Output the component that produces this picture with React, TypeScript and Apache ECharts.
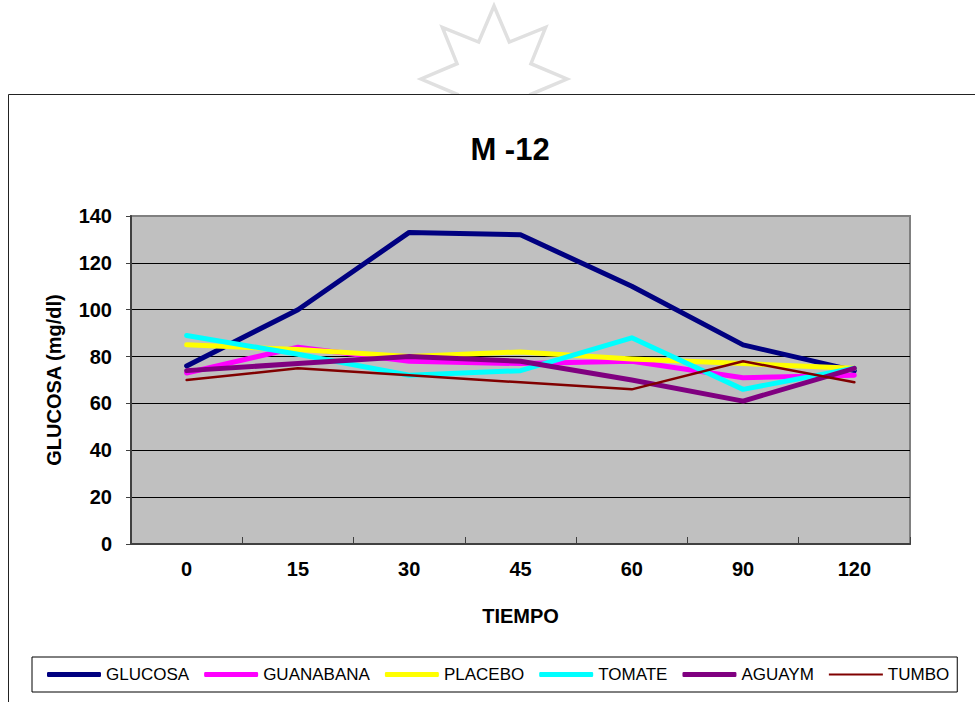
import React, { useEffect, useRef } from "react";
import * as echarts from "echarts";

const categories = ["0", "15", "30", "45", "60", "90", "120"];
const glucosa = [76, 100, 133, 132, 110, 85, 74];
const guanabana = [73, 84, 78, 77, 78, 71, 72];
const placebo = [85, 83, 80, 82, 79, 77, 75];
const tomate = [89, 81, 72, 74, 88, 66, 75];
const aguaym = [74, 77, 80, 78, 70, 61, 75];
const tumbo = [70, 75, 72, 69, 66, 78, 69];

const FONT = 'Arial, "Liberation Sans", sans-serif';

function starPoints(cx: number, cy: number, ro: number, ri: number, n: number) {
  const pts: number[][] = [];
  for (let i = 0; i < n * 2; i++) {
    const r = i % 2 === 0 ? ro : ri;
    const a = (Math.PI * i) / n;
    pts.push([cx + r * Math.sin(a), cy - r * Math.cos(a)]);
  }
  return pts;
}

const THICK = "roundRect";
const THIN = "path://M0,0M54,5M0,1.5L54,1.5L54,3.5L0,3.5Z";

export default function App() {
  const ref = useRef<HTMLDivElement>(null);
  useEffect(() => {
    if (!ref.current) return;
    const chart = echarts.init(ref.current, undefined, { renderer: "svg" });
    const mk = (name: string, data: number[], color: string, width: number) => ({
      name,
      type: "line",
      data,
      symbol: "none",
      lineStyle: { color, width, cap: "round", join: "round" },
      itemStyle: { color },
    });
    chart.setOption({
      animation: false,
      backgroundColor: "#fff",
      graphic: [
        {
          type: "polygon",
          z: -20,
          shape: { points: starPoints(494, 79, 73, 40, 8) },
          style: { fill: "none", stroke: "#e0e0e0", lineWidth: 3.5 },
        },
        {
          type: "rect",
          z: -10,
          shape: { x: 8.5, y: 94.5, width: 1000, height: 700 },
          style: { fill: "#fff", stroke: "#222", lineWidth: 1 },
        },
      ],
      title: {
        text: "M -12",
        left: 505,
        top: 129,
        textAlign: "center",
        textStyle: { fontFamily: FONT, fontSize: 31, fontWeight: "bold", color: "#000" },
      },
      grid: {
        left: 131,
        right: 65,
        top: 216,
        bottom: 158,
        show: true,
        backgroundColor: "#C0C0C0",
        borderColor: "#808080",
        borderWidth: 2,
      },
      legend: {
        left: 32,
        top: 657,
        padding: [9, 8, 9, 15],
        itemGap: 15,
        itemWidth: 54,
        itemHeight: 5,
        borderColor: "#000",
        borderWidth: 1,
        backgroundColor: "#fff",
        textStyle: { fontFamily: FONT, fontSize: 17, color: "#000" },
        data: [
          { name: "GLUCOSA", icon: THICK },
          { name: "GUANABANA", icon: THICK },
          { name: "PLACEBO", icon: THICK },
          { name: "TOMATE", icon: THICK },
          { name: "AGUAYM", icon: THICK },
          { name: "TUMBO", icon: THIN },
        ],
      },
      xAxis: {
        type: "category",
        data: categories,
        boundaryGap: true,
        name: "TIEMPO",
        nameLocation: "middle",
        nameGap: 62,
        nameTextStyle: { fontFamily: FONT, fontSize: 20, fontWeight: "bold", color: "#000" },
        axisLine: { show: true, lineStyle: { color: "#404040", width: 2 } },
        axisTick: { show: true, inside: true, length: 7, lineStyle: { color: "#404040", width: 1 } },
        axisLabel: { fontFamily: FONT, fontSize: 20, fontWeight: "bold", color: "#000", margin: 15 },
        splitLine: { show: false },
      },
      yAxis: {
        type: "value",
        min: 0,
        max: 140,
        interval: 20,
        name: "GLUCOSA (mg/dl)",
        nameLocation: "middle",
        nameGap: 67,
        nameTextStyle: { fontFamily: FONT, fontSize: 20, fontWeight: "bold", color: "#000" },
        axisLine: { show: true, lineStyle: { color: "#404040", width: 2 } },
        axisTick: { show: true, length: 5, lineStyle: { color: "#404040", width: 1 } },
        axisLabel: { fontFamily: FONT, fontSize: 20, fontWeight: "bold", color: "#000", margin: 19 },
        splitLine: { show: true, showMaxLine: false, showMinLine: false, lineStyle: { color: "#000", width: 1 } },
      },
      series: [
        mk("GLUCOSA", glucosa, "#000080", 5),
        mk("GUANABANA", guanabana, "#FF00FF", 5),
        mk("PLACEBO", placebo, "#FFFF00", 5),
        mk("TOMATE", tomate, "#00FFFF", 5),
        mk("AGUAYM", aguaym, "#800080", 5),
        mk("TUMBO", tumbo, "#800000", 2.5),
      ],
    });
    return () => chart.dispose();
  }, []);
  return (
    <div
      ref={ref}
      style={{ position: "absolute", left: 0, top: 0, width: 975, height: 702 }}
    />
  );
}
